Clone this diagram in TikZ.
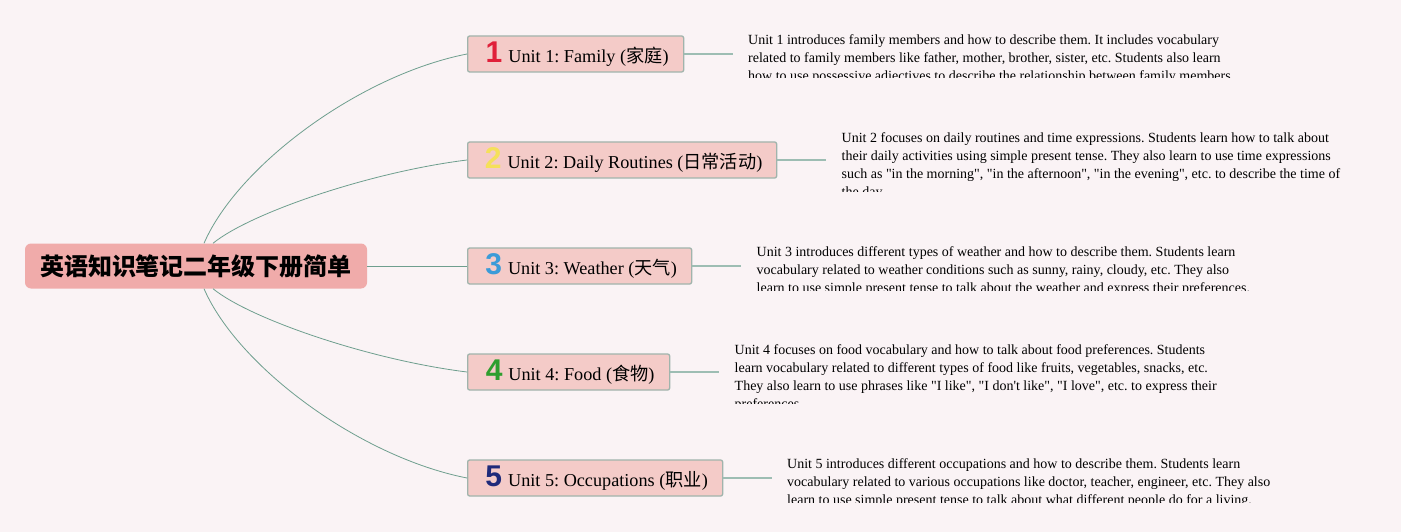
\documentclass[tikz,border=0pt]{standalone}
\usepackage{fontspec}
\setmainfont{Liberation Serif}[Ligatures=TeXOff]
\newfontfamily\cjk{Noto Sans CJK SC}
\newfontfamily\digitfont{Liberation Sans}
\frenchspacing
\definecolor{bg}{HTML}{FAF3F5}
\definecolor{rootfill}{HTML}{F0ABAA}
\definecolor{boxfill}{HTML}{F4CBC8}
\definecolor{boxdraw}{HTML}{A0B4AC}
\definecolor{branchc}{HTML}{6E9E8E}
\definecolor{leafc}{HTML}{9DBDB3}
\definecolor{dred}{HTML}{E0203A}
\definecolor{dyellow}{HTML}{F5E05A}
\definecolor{dblue}{HTML}{3B9BD8}
\definecolor{dgreen}{HTML}{2E9E2E}
\definecolor{dnavy}{HTML}{1F2A7A}
\newcommand\dig[2]{\hspace{3pt}{\digitfont\bfseries\fontsize{30}{30}\selectfont\color{#1}#2}\hspace{6pt}}
\begin{document}
\begin{tikzpicture}[x=1pt,y=-1pt,
  rootbox/.style={fill=rootfill, rounded corners=6pt, minimum width=342pt, minimum height=45pt, inner sep=0pt,
    font=\cjk\bfseries\fontsize{24}{24}\selectfont},
  unitbox/.style={fill=boxfill, draw=boxdraw, line width=1.3pt, rounded corners=2pt, minimum height=36pt,
    inner xsep=0pt, inner ysep=0pt, anchor=west, font=\fontsize{18.2}{18.2}\selectfont},
  branch/.style={draw=branchc, line width=0.8pt},
  leaf/.style={draw=leafc, line width=1.3pt},
  desc/.style={anchor=base west, inner sep=0pt, font=\fontsize{14}{18}\selectfont}
]
\useasboundingbox[fill=bg] (0,0) rectangle (1401,532);

\node[rootbox] (root) at (196,266) {英语知识笔记二年级下册简单};

\node[unitbox, minimum width=216pt] (u1) at (467,54)  {\dig{dred}{1}Unit 1: Family ({\cjk 家庭})};
\node[unitbox, minimum width=309pt] (u2) at (467,160) {\dig{dyellow}{2}Unit 2: Daily Routines ({\cjk 日常活动})};
\node[unitbox, minimum width=224pt] (u3) at (467,266) {\dig{dblue}{3}Unit 3: Weather ({\cjk 天气})};
\node[unitbox, minimum width=202pt] (u4) at (467,372) {\dig{dgreen}{4}Unit 4: Food ({\cjk 食物})};
\node[unitbox, minimum width=255pt] (u5) at (467,478) {\dig{dnavy}{5}Unit 5: Occupations ({\cjk 职业})};

\coordinate (r1) at ([xshift=8pt]root.north);
\coordinate (r2) at ([xshift=17pt]root.north);
\coordinate (r4) at ([xshift=17pt]root.south);
\coordinate (r5) at ([xshift=8pt]root.south);

\draw[branch] (r1) .. controls (238,165) and (360,75) .. (u1.west);
\draw[branch] (r2) .. controls (250,213) and (370,172) .. (u2.west);
\draw[branch] (root.east) -- (u3.west);
\draw[branch] (r4) .. controls (250,319) and (370,360) .. (u4.west);
\draw[branch] (r5) .. controls (238,367) and (360,457) .. (u5.west);

\coordinate (e1) at (733,54);
\coordinate (e2) at (826,160);
\coordinate (e3) at (741,266);
\coordinate (e4) at (719,372);
\coordinate (e5) at (772,478);
\draw[leaf] (u1.east) -- (e1);
\draw[leaf] (u2.east) -- (e2);
\draw[leaf] (u3.east) -- (e3);
\draw[leaf] (u4.east) -- (e4);
\draw[leaf] (u5.east) -- (e5);

\begin{scope}
\clip (740,20) rectangle (1300,78);
\node[desc] (t1) at (748,44.5) {\parbox[t]{600pt}{\raggedright
Unit 1 introduces family members and how to describe them. It includes vocabulary\\
related to family members like father, mother, brother, sister, etc. Students also learn\\
how to use possessive adjectives to describe the relationship between family members.}};
\end{scope}
\begin{scope}
\clip (830,120) rectangle (1390,192);
\node[desc] (t2) at (841.5,142.5) {\parbox[t]{600pt}{\raggedright
Unit 2 focuses on daily routines and time expressions. Students learn how to talk about\\
their daily activities using simple present tense. They also learn to use time expressions\\
such as "in the morning", "in the afternoon", "in the evening", etc. to describe the time of\\
the day.}};
\end{scope}
\begin{scope}
\clip (745,235) rectangle (1300,290.5);
\node[desc] (t3) at (756.5,256) {\parbox[t]{600pt}{\raggedright
Unit 3 introduces different types of weather and how to describe them. Students learn\\
vocabulary related to weather conditions such as sunny, rainy, cloudy, etc. They also\\
learn to use simple present tense to talk about the weather and express their preferences.}};
\end{scope}
\begin{scope}
\clip (725,335) rectangle (1300,403);
\node[desc] (t4) at (734.5,354) {\parbox[t]{600pt}{\raggedright
Unit 4 focuses on food vocabulary and how to talk about food preferences. Students\\
learn vocabulary related to different types of food like fruits, vegetables, snacks, etc.\\
They also learn to use phrases like "I like", "I don't like", "I love", etc. to express their\\
preferences.}};
\end{scope}
\begin{scope}
\clip (780,445) rectangle (1330,502.7);
\node[desc] (t5) at (787,468) {\parbox[t]{600pt}{\raggedright
Unit 5 introduces different occupations and how to describe them. Students learn\\
vocabulary related to various occupations like doctor, teacher, engineer, etc. They also\\
learn to use simple present tense to talk about what different people do for a living.}};
\end{scope}
\end{tikzpicture}
\end{document}
